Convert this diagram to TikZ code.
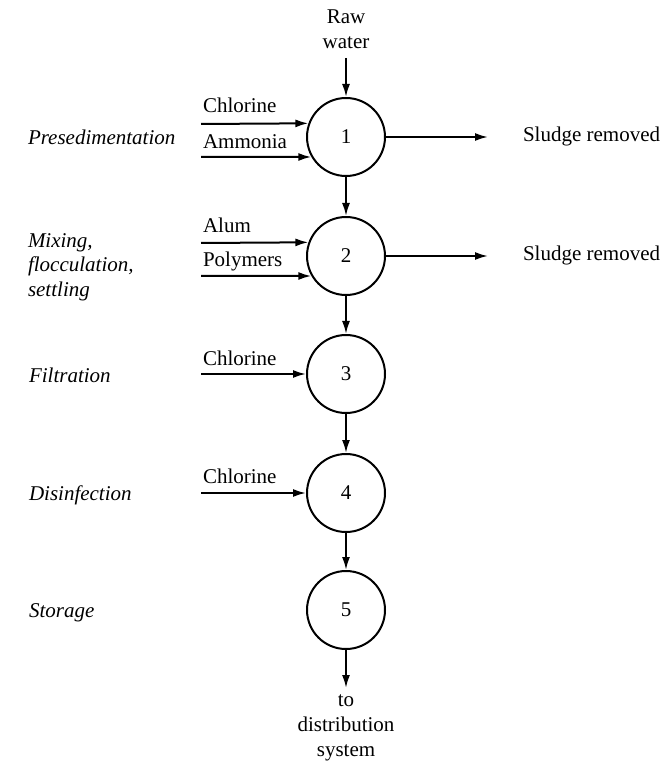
\documentclass[tikz,border=0pt]{standalone}
\usepackage{fontspec}
\setmainfont{Liberation Serif}
\usetikzlibrary{arrows.meta}

\begin{document}
\begin{tikzpicture}[x=0.5pt, y=-0.5pt, line width=1pt,
            every node/.style={font=\fontsize{10.5}{12.5}\selectfont}]
            \tikzstyle{unitStyle} = [circle,draw=black,fill=white,minimum size=39pt,inner sep=0pt]
            \tikzstyle{flowEdge} = [draw=black, -{Latex[length=6.5pt,width=4pt]}]
            \tikzstyle{stageLabel} = [anchor=base west, inner sep=0pt,
                                      font=\fontsize{10.5}{12}\selectfont\itshape]
            \tikzstyle{chemLabel} = [anchor=base west, inner sep=0pt]
            \useasboundingbox (0,0) rectangle (664,774);
            % treatment units
            \node[unitStyle] (1) at (346,137) {1};
            \node[unitStyle] (2) at (346,256) {2};
            \node[unitStyle] (3) at (346,374) {3};
            \node[unitStyle] (4) at (346,493) {4};
            \node[unitStyle] (5) at (346,610) {5};
            \foreach \from/\to in {1/2,2/3,3/4,4/5}
                \path[flowEdge] (\from) edge (\to);
            % raw water in, distribution out
            \node[anchor=south, align=center, inner sep=4pt] (raw) at (346,58) {Raw\\water};
            \node[anchor=north, align=center, inner sep=3pt] (dist) at (346,688) {to\\distribution\\system};
            \path[flowEdge] (raw) edge (1);
            \path[flowEdge] (5) edge (dist);
            % stage names
            \node[stageLabel] (pre) at (27,145) {Presedimentation};
            \node[anchor=west, align=left, inner sep=0pt,
                  font=\fontsize{10.5}{12.3}\selectfont\itshape] (mix) at (27,267) {Mixing,\\flocculation,\\settling};
            \node[stageLabel] (fil) at (28,382) {Filtration};
            \node[stageLabel] (dis) at (28,500) {Disinfection};
            \node[stageLabel] (sto) at (28,617) {Storage};
            % chemicals added
            \node[chemLabel] (chl1) at (202,113) {Chlorine};
            \node[chemLabel] (amm) at (202,149) {Ammonia};
            \node[chemLabel] (alum) at (202,233) {Alum};
            \node[chemLabel] (poly) at (202,267) {Polymers};
            \node[chemLabel] (chl3) at (202,365) {Chlorine};
            \node[chemLabel] (chl4) at (202,483) {Chlorine};
            \coordinate (a1) at (201,124);
            \coordinate (a2) at (201,157);
            \coordinate (a3) at (201,243);
            \coordinate (a4) at (201,276);
            \coordinate (a5) at (201,374);
            \coordinate (a6) at (201,493);
            \draw[flowEdge] (a1) -- (1.160);
            \draw[flowEdge] (a2) -- (1.210);
            \draw[flowEdge] (a3) -- (2.160);
            \draw[flowEdge] (a4) -- (2.210);
            \draw[flowEdge] (a5) -- (3);
            \draw[flowEdge] (a6) -- (4);
            % sludge
            \node[chemLabel] (sl1) at (522,142) {Sludge removed};
            \node[chemLabel] (sl2) at (522,261) {Sludge removed};
            \coordinate (s1) at (488,137);
            \coordinate (s2) at (488,256);
            \draw[flowEdge] (1) -- (s1);
            \draw[flowEdge] (2) -- (s2);
\end{tikzpicture}
\end{document}
